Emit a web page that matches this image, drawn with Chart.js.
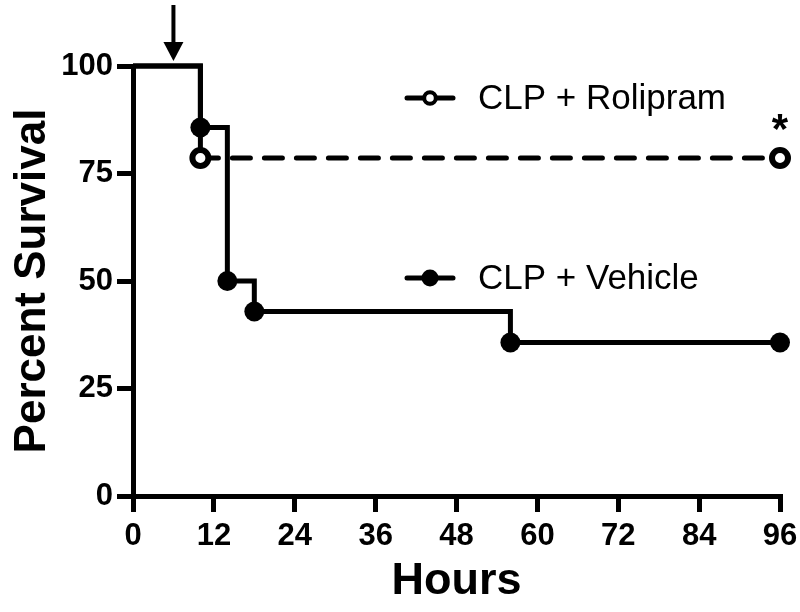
<!DOCTYPE html>
<html><head><meta charset="utf-8">
<script src="https://cdn.jsdelivr.net/npm/chart.js@4/dist/chart.umd.min.js"></script>
<style>html,body{margin:0;padding:0;background:#fff}#wrap{width:800px;height:612px}</style>
</head><body><div id="wrap"><canvas id="c" width="800" height="612"></canvas></div>
<script>
const vehicleHours = [0, 10, 14, 18, 56, 96];
const vehicleSurvival = [100, 85.7, 50, 42.9, 35.7, 35.7];
const rolipramHours = [0, 10, 96];
const rolipramSurvival = [100, 78.6, 78.6];
const xTickValues = [0, 12, 24, 36, 48, 60, 72, 84, 96];
const yTickValues = [0, 25, 50, 75, 100];
const seriesLabels = ['CLP + Rolipram', 'CLP + Vehicle'];
const xTitle = 'Hours';
const yTitle = 'Percent Survival';
const treatmentHour = 6;
const significanceMark = '*';

function hasFont(name) {
  const c = document.createElement('canvas').getContext('2d');
  const s = 'Percent Survival 0123456789';
  c.font = 'bold 40px monospace';
  const a = c.measureText(s).width;
  c.font = 'bold 40px "' + name + '", monospace';
  return Math.abs(c.measureText(s).width - a) > 0.5;
}
const narrow = hasFont('Liberation Sans Narrow');
const axisFamily = narrow ? '"Liberation Sans Narrow", "Liberation Sans", Arial, sans-serif' : '"Liberation Sans", Arial, sans-serif';
const legendFamily = '"Liberation Sans", Arial, sans-serif';
const tickSize = narrow ? 34 : 31;
const xTitleSize = narrow ? 50 : 45;
const yTitleSize = narrow ? 50 : 44;

const extras = {
  id: 'extras',
  afterDraw(chart) {
    const ctx = chart.ctx;
    const xs = chart.scales.x, ys = chart.scales.y;
    ctx.save();
    ctx.strokeStyle = '#000';
    ctx.fillStyle = '#000';
    // legend
    const items = [
      {label: seriesLabels[0], y: 98, fill: '#fff', r: 5.8},
      {label: seriesLabels[1], y: 278, fill: '#000', r: 8.5}
    ];
    items.forEach(it => {
      ctx.lineWidth = 5;
      ctx.lineCap = 'round';
      ctx.beginPath(); ctx.moveTo(407, it.y); ctx.lineTo(453, it.y); ctx.stroke();
      ctx.beginPath(); ctx.arc(430, it.y, it.r, 0, Math.PI * 2);
      ctx.fillStyle = it.fill; ctx.fill();
      if (it.fill === '#fff') { ctx.lineWidth = 4; ctx.stroke(); }
      ctx.fillStyle = '#000';
      ctx.font = '35px ' + legendFamily;
      ctx.textBaseline = 'middle';
      ctx.textAlign = 'left';
      ctx.fillText(it.label, 478, it.y + 1);
    });
    // arrow
    const ax = xs.getPixelForValue(treatmentHour);
    ctx.lineWidth = 4;
    ctx.lineCap = 'butt';
    ctx.beginPath(); ctx.moveTo(ax, 5); ctx.lineTo(ax, 44); ctx.stroke();
    ctx.beginPath(); ctx.moveTo(ax - 10, 42); ctx.lineTo(ax + 10, 42); ctx.lineTo(ax, 61); ctx.closePath(); ctx.fill();
    // asterisk
    const sx = xs.getPixelForValue(rolipramHours[rolipramHours.length - 1]);
    const sy = ys.getPixelForValue(rolipramSurvival[rolipramSurvival.length - 1]);
    ctx.font = 'bold 42px ' + legendFamily;
    ctx.textAlign = 'center';
    ctx.textBaseline = 'middle';
    ctx.fillText(significanceMark, sx, sy - 27);
    ctx.restore();
  }
};

new Chart(document.getElementById('c'), {
  type: 'scatter',
  data: {
    datasets: [
      {
        label: seriesLabels[1],
        data: vehicleHours.map((h, i) => ({x: h, y: vehicleSurvival[i]})),
        showLine: true, stepped: true,
        borderColor: '#000', borderWidth: 5,
        pointRadius: vehicleHours.map((h, i) => i === 0 ? 0 : 10),
        pointBackgroundColor: '#000', pointBorderWidth: 0,
        clip: false
      },
      {
        label: seriesLabels[0],
        data: rolipramHours.map((h, i) => ({x: h, y: rolipramSurvival[i]})),
        showLine: true, stepped: true,
        borderColor: '#000', borderWidth: 5,
        segment: {
          borderDash: c => c.p0DataIndex >= 1 ? [18, 14] : [],
          borderCapStyle: c => c.p0DataIndex >= 1 ? 'round' : 'butt'
        },
        pointRadius: rolipramHours.map((h, i) => i === 0 ? 0 : 8),
        pointBackgroundColor: '#fff', pointBorderColor: '#000', pointBorderWidth: 6,
        clip: false
      }
    ]
  },
  options: {
    responsive: false,
    animation: false,
    events: [],
    layout: { padding: { top: 66, right: 20, left: 0, bottom: 0 } },
    plugins: { legend: { display: false }, tooltip: { enabled: false } },
    scales: {
      x: {
        type: 'linear', min: 0, max: 96,
        afterBuildTicks: s => { s.ticks = xTickValues.map(v => ({value: v})); },
        afterFit: s => { s.height = 116; s.paddingLeft = 0; s.paddingRight = 0; },
        ticks: { color: '#000', padding: 6, font: { family: axisFamily, size: tickSize, weight: 'bold' } },
        grid: { drawOnChartArea: false, drawTicks: true, tickLength: 16, tickWidth: 5, tickColor: '#000', color: '#000', lineWidth: 5 },
        border: { display: true, color: '#000', width: 5 },
        title: { display: true, text: xTitle, color: '#000', padding: { top: 0, bottom: 3 }, font: { family: axisFamily, size: xTitleSize, weight: 'bold' } }
      },
      y: {
        type: 'linear', min: 0, max: 100,
        afterBuildTicks: s => { s.ticks = yTickValues.map(v => ({value: v})); },
        afterFit: s => { s.width = 133; s.paddingTop = 0; s.paddingBottom = 0; },
        ticks: { color: '#000', padding: 4, font: { family: axisFamily, size: tickSize, weight: 'bold' } },
        grid: { drawOnChartArea: false, drawTicks: true, tickLength: 16, tickWidth: 5, tickColor: '#000', color: '#000', lineWidth: 5 },
        border: { display: true, color: '#000', width: 5 },
        title: { display: true, text: yTitle, color: '#000', padding: { top: 6, bottom: 0 }, font: { family: axisFamily, size: yTitleSize, weight: 'bold' } }
      }
    }
  },
  plugins: [extras]
});
</script>
</body></html>
